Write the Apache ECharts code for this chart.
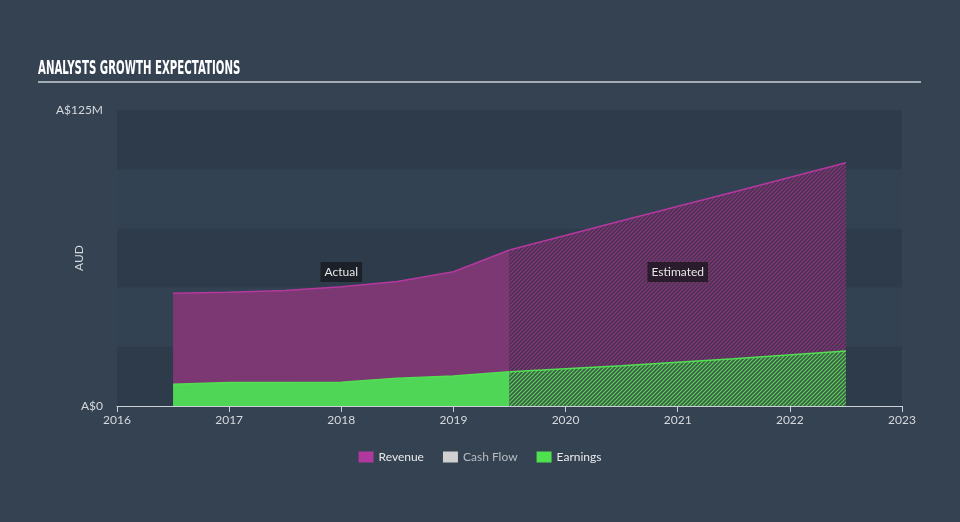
<!DOCTYPE html>
<html><head><meta charset="utf-8">
<script src="https://cdn.jsdelivr.net/npm/echarts@6/dist/echarts.min.js"></script>
<style>html,body{margin:0;padding:0;background:#344252;}#c{width:960px;height:522px;}</style>
</head><body><div id="c"></div>
<script>
const revenueActual = [[2016.5,47.6],[2017.0,48.0],[2017.5,48.8],[2018.0,50.4],[2018.5,52.6],[2019.0,56.7],[2019.5,65.9]];
const revenueEstimate = [[2019.5,65.9],[2020.5,78.2],[2021.5,90.4],[2022.5,102.7]];
const earningsActual = [[2016.5,9.2],[2017.0,9.9],[2017.5,9.9],[2018.0,10.0],[2018.5,11.7],[2019.0,12.7],[2019.5,14.5]];
const earningsEstimate = [[2019.5,14.5],[2020.5,17.0],[2021.5,20.0],[2022.5,23.2]];
const yTicks = ['A$0','A$125M'];
const legendNames = ['Revenue','Cash Flow','Earnings'];

function hatch(base, stripe){
  const c=document.createElement('canvas'); c.width=4; c.height=4;
  const g=c.getContext('2d');
  g.fillStyle=base; g.fillRect(0,0,4,4);
  g.strokeStyle=stripe; g.lineWidth=1.2;
  g.beginPath(); g.moveTo(-1,5); g.lineTo(5,-1); g.stroke();
  g.beginPath(); g.moveTo(-1,1); g.lineTo(1,-1); g.stroke();
  g.beginPath(); g.moveTo(3,5); g.lineTo(5,3); g.stroke();
  return {image:c, repeat:'repeat'};
}

const chart = echarts.init(document.getElementById('c'));
const fontFam = 'Lato, "Noto Sans", sans-serif';
chart.setOption({
  backgroundColor:'#344252',
  animation:false,
  graphic:[
    {type:'rect', shape:{x:38,y:81,width:883,height:2}, style:{fill:'#a3abb4'}},
    {type:'text', x:38, y:59, scaleX:0.51, style:{text:'ANALYSTS GROWTH EXPECTATIONS', fill:'#ffffff',
      font:'bold 20px "DejaVu Sans", sans-serif'}},
    {type:'text', x:79, y:258, rotation:Math.PI/2, style:{text:'AUD', fill:'#d5d9de',
      font:'12px Lato, sans-serif', align:'center', verticalAlign:'middle'}}
  ],
  grid:{left:117, right:58, top:110, bottom:116},
  legend:{bottom:54, left:'center', itemWidth:15, itemHeight:11, itemGap:19, icon:'rect',
    textStyle:{color:'#e8eaec', fontSize:12, fontFamily:fontFam},
    data:[{name:'Revenue', itemStyle:{color:'#b0399e'}},
          {name:'Cash Flow', itemStyle:{color:'#d0d0d0'}, textStyle:{color:'#b8bcc2'}},
          {name:'Earnings', itemStyle:{color:'#4fe04f'}}]},
  xAxis:{type:'value', min:2016, max:2023, interval:1,
    axisLine:{lineStyle:{color:'#c9d0d8', width:1}},
    axisTick:{show:true, length:6, lineStyle:{color:'#c9d0d8'}},
    axisLabel:{color:'#d5d9de', fontSize:12, fontFamily:fontFam, margin:8, formatter:v=>String(v)},
    splitLine:{show:false}},
  yAxis:{type:'value', min:0, max:125, interval:25,
    axisLine:{show:false}, axisTick:{show:false},
    axisLabel:{color:'#d5d9de', fontSize:12, fontFamily:fontFam, margin:14, padding:[0,0,4,0],
      formatter:v=> v===0?yTicks[0]:(v===125?yTicks[1]:'')},
    splitLine:{show:false},
    splitArea:{show:true, areaStyle:{color:['#2e3b4a','#334252']}}},
  series:[
    {name:'Revenue', type:'line', data:revenueActual, symbol:'none', z:2,
      lineStyle:{color:'#b5389f', width:1.5}, areaStyle:{color:'#7b3873', opacity:1},
      markPoint:{symbol:'rect', symbolSize:0, data:[{coord:[2018,56.6], value:'Actual'}],
        label:{show:true, formatter:'Actual', color:'#e6e6e6', fontSize:12, fontFamily:fontFam,
          backgroundColor:'#1c2029', padding:[4,4,4,4]}}},
    {name:'Revenue', type:'line', data:revenueEstimate, symbol:'none', z:2,
      lineStyle:{color:'#b5389f', width:1.5}, areaStyle:{color:hatch('#4d3250','#84387f'), opacity:1},
      markPoint:{symbol:'rect', symbolSize:0, data:[{coord:[2021,56.6], value:'Estimated'}],
        label:{show:true, formatter:'Estimated', color:'#e6e6e6', fontSize:12, fontFamily:fontFam,
          backgroundColor:'#2a1c2c', padding:[4,4,4,4]}}},
    {name:'Cash Flow', type:'line', data:[], symbol:'none', lineStyle:{color:'#d0d0d0'}},
    {name:'Earnings', type:'line', data:earningsActual, symbol:'none', z:3,
      lineStyle:{color:'#52e052', width:1.5}, areaStyle:{color:'#4fd656', opacity:1}},
    {name:'Earnings', type:'line', data:earningsEstimate, symbol:'none', z:3,
      lineStyle:{color:'#52e052', width:1.5}, areaStyle:{color:hatch('#3a5f45','#5ccf5c'), opacity:1}}
  ]
});
</script></body></html>
